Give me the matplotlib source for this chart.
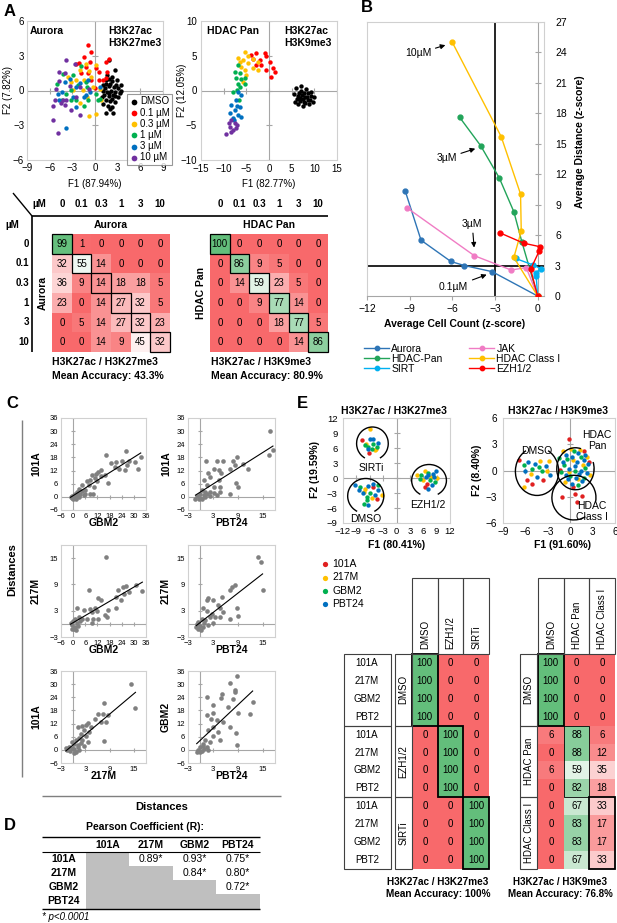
import matplotlib
matplotlib.use("Agg")
import matplotlib.pyplot as plt
import numpy as np
from matplotlib.colors import LinearSegmentedColormap
from matplotlib.patches import Arc, Rectangle

plt.rcParams['font.family'] = ['Liberation Sans', 'DejaVu Sans']

W, H = 617, 923

# ---------------- data: panel A scatter (PCA) ----------------
DOSES = ["DMSO", "0.1 µM", "0.3 µM", "1 µM", "3 µM", "10 µM"]
DOSE_COLORS = ["black", "#ff0000", "#ffc000", "#00b050", "#0070c0", "#7030a0"]

AUR_DMSO = [(1.9, 2.65), (2.6, 1.75), (2.3, 1.2), (1.8, 1.0), (2.2, 0.8), (1.5, 0.6), (2.8, 0.5), (3.5, 0.5),
            (3.1, 0.2), (2.5, 0.3), (1.9, 0.4), (1.3, 0.2), (1.0, 0.0), (1.6, -0.1), (2.1, 0.0), (2.7, -0.1),
            (3.3, -0.2), (1.2, -0.4), (1.8, -0.5), (2.4, -0.4), (3.0, -0.6), (1.4, -0.8), (2.0, -0.9), (2.6, -1.0),
            (1.1, -1.2), (1.7, -1.3), (2.2, -1.4), (1.5, -1.9), (2.0, -1.6), (0.9, -0.6), (2.9, 0.9), (1.6, 1.3),
            (2.4, -1.9), (3.4, 0.0), (2.0, 0.6), (1.4, 0.9), (2.7, -0.5), (1.1, 0.5), (2.3, -0.7), (1.9, -0.2)]
AUR_01 = [(-0.95, 3.9), (-0.5, 3.33), (-1.5, 2.9), (-2.1, 2.4), (-0.7, 2.5), (0.15, 1.9), (-1.25, 2.0),
          (-0.95, 1.47), (-1.8, 1.5), (0.5, 1.6), (1.5, 2.5), (1.9, 2.7), (1.55, 1.6), (1.0, 0.9), (-0.5, 0.9),
          (0.5, 0.9), (-0.05, 0.25), (1.4, 1.1), (-2.5, 2.3)]
AUR_03 = [(-1.25, 2.33), (-2.05, 1.75), (-0.73, 1.7), (0.15, 2.18), (-1.4, 0.9), (-2.5, 0.9), (-3.15, 0.75),
          (-0.3, 0.26), (-1.6, 0.03), (0.6, 0.17), (-1.1, -0.55), (-2.05, -1.1), (-0.8, -2.2), (0.15, -2.0),
          (0.8, -0.83), (-2.85, 0.03), (-3.6, 1.2), (-0.5, 1.2)]
AUR_1 = [(-1.83, 2.1), (-2.85, 1.3), (-4.25, 1.4), (-3.15, 0.03), (-2.27, 0.46), (-1.08, 0.32), (0.15, -0.26),
         (0.6, -0.7), (-3.15, -0.83), (-3.8, -0.26), (-2.5, -0.83), (-1.4, -1.35), (-4.35, -0.78), (-0.95, -0.83),
         (0.37, -0.83), (-1.17, 0.75), (-5.05, 0.55)]
AUR_3 = [(-3.8, -3.28), (-4.35, -0.11), (-4.9, -0.26), (-3.37, 1.03), (-2.57, 0.32), (-2.05, 0.66), (-0.95, 0.9),
         (-2.9, -0.55), (-1.4, -0.55), (-0.64, -0.11), (-4.7, -0.83), (-2.5, -1.4), (-1.25, -0.4), (-4.0, 0.75),
         (0.6, 0.26)]
AUR_10 = [(-3.8, 2.6), (-2.7, 2.33), (-4.8, 1.6), (-4.0, 1.47), (-4.7, 0.83), (-3.28, 0.37), (-2.05, 0.32),
          (-5.1, 0.17), (-5.6, -1.35), (-5.35, -0.83), (-4.25, -0.78), (-4.0, -1.26), (-3.8, -0.83), (-4.9, -3.7),
          (-5.6, -2.56), (-2.05, -2.13), (-3.15, -1.7), (-2.57, -0.55), (-0.8, 0.17), (-4.47, -1.06)]

HDP_DMSO = [(5.5, -0.5), (6.0, 0.3), (6.3, -0.8), (6.8, -1.5), (7.0, 0.0), (7.2, -0.7), (7.5, -1.2), (7.8, -0.3),
            (8.0, -1.8), (8.3, -0.9), (8.6, -0.4), (9.0, -1.3), (9.3, -0.8), (9.6, -1.6), (6.5, -2.0), (7.4, -2.3),
            (8.8, -2.0), (6.1, -1.2), (7.1, 0.6), (8.1, 0.2), (9.9, -1.0), (5.8, -1.6), (7.7, -1.7), (8.5, -1.4),
            (6.6, -0.3), (7.9, -0.9), (9.2, -0.2), (6.9, -1.1)]
HDP_01 = [(-2.8, 5.35), (-0.96, 5.44), (-3.5, 4.6), (-2.06, 4.4), (-0.6, 4.9), (0.15, 4.15), (-1.7, 3.67),
          (-2.8, 3.67), (-0.6, 2.95), (0.9, 3.2), (1.25, 2.6), (0.5, 1.9), (-3.9, 5.1)]
HDP_03 = [(-5.4, 5.6), (-6.8, 4.63), (-5.7, 4.4), (-4.6, 4.9), (-3.5, 4.6), (-4.6, 3.9), (-6.1, 3.43), (-5.4, 2.95),
          (-2.4, 4.15), (-3.5, 3.2), (-5.0, 2.23), (-6.5, 4.15), (-2.4, 2.95), (-5.7, 1.27)]
HDP_1 = [(-6.8, 3.67), (-7.6, 2.7), (-6.5, 2.47), (-7.2, 1.75), (-6.1, 1.6), (-6.8, 1.0), (-5.4, 1.0), (-6.5, 0.46),
         (-7.9, -0.17), (-5.4, 1.75), (-6.6, -1.37), (-7.06, 0.07)]
HDP_3 = [(-6.8, -0.17), (-6.1, -0.65), (-7.2, -1.37), (-8.3, -2.1), (-6.5, -2.33), (-7.6, -2.8), (-6.8, -3.5),
         (-7.9, -4.0), (-6.1, -3.76), (-8.7, -3.3), (-7.06, -2.23), (-7.7, -4.3)]
HDP_10 = [(-8.3, -4.24), (-7.6, -4.7), (-8.7, -5.2), (-7.9, -5.7), (-7.2, -5.45), (-9.4, -6.26), (-8.3, -5.9),
          (-7.06, -4.96), (-8.8, -4.7)]

# ---------------- data: panel A confusion matrices ----------------
MAT_DOSES = ["0", "0.1", "0.3", "1", "3", "10"]
AURORA_ACC = [[99, 1, 0, 0, 0, 0],
              [32, 55, 14, 0, 0, 0],
              [36, 9, 14, 18, 18, 5],
              [23, 0, 14, 27, 32, 5],
              [0, 5, 14, 27, 32, 23],
              [0, 0, 14, 9, 45, 32]]
HDACPAN_ACC = [[100, 0, 0, 0, 0, 0],
               [0, 86, 9, 5, 0, 0],
               [0, 14, 59, 23, 5, 0],
               [0, 0, 9, 77, 14, 0],
               [0, 0, 0, 18, 77, 5],
               [0, 0, 0, 0, 14, 86]]

# ---------------- data: panel B dose-response trajectories ----------------
B_NAMES = ["Aurora", "HDAC-Pan", "SIRT", "JAK", "HDAC Class I", "EZH1/2"]
B_COLORS = ["#2e75b6", "#22a45a", "#00b0f0", "#f07cc4", "#ffc000", "#ff0000"]
B_X = [[0, -3.2, -5.15, -6.1, -8.2, -9.3],
       [0, -1.1, -1.67, -2.7, -4.0, -5.48],
       [0, -0.1, -0.14, 0.21, -0.3, -1.55],
       [0, -0.8, -1.86, -4.45, -9.2],
       [0, -1.67, -1.15, -1.2, -2.56, -6.0],
       [0, -0.49, 0.12, 0.16, -0.97, -2.68]]
B_Y = [[0, 2.4, 3.0, 3.4, 5.5, 10.3],
       [0, 5.3, 8.3, 11.65, 14.8, 17.6],
       [0, 2.0, 2.24, 2.7, 3.05, 3.7],
       [0, 2.8, 2.56, 3.97, 8.7],
       [0, 3.8, 6.4, 10.05, 15.7, 25.0],
       [0, 2.63, 4.46, 4.86, 5.2, 6.24]]

# ---------------- data: panel C distance correlations ----------------
C_101A_GBM2 = [(16.1, 19.0), (26.1, 21.1), (33.4, 18.1), (21.3, 16.1), (24.0, 16.5), (27.7, 16.5), (30.5, 16.0),
               (26.6, 14.5), (31.8, 12.6), (25.6, 12.2), (22.9, 12.6), (14.0, 12.2), (12.4, 11.5), (11.1, 10.4),
               (9.2, 10.0), (14.0, 9.5), (15.6, 10.0), (17.3, 6.1), (10.8, 8.4), (8.4, 7.7), (6.8, 7.4), (4.4, 5.4),
               (7.6, 5.4), (10.5, 4.6), (6.0, 3.1), (2.7, 3.8), (1.9, 2.3), (4.4, 2.8), (10.0, 1.5), (8.4, 1.2),
               (3.5, 1.2), (1.1, 1.2), (0.3, 0.8), (-0.5, 0.3), (-1.3, 0.0), (0.8, -0.3), (-0.2, -1.2), (1.9, 0.3),
               (1.5, -0.8), (2.7, 0.0), (-0.8, -0.6), (5.2, 0.8), (6.0, 1.5), (3.1, 0.8), (11.9, 7.4), (20.5, 13.5),
               (18.9, 15.3)]
C_101A_PBT24 = [(16.9, 30.2), (17.5, 21.4), (16.5, 19.1), (1.3, 16.5), (4.0, 16.5), (5.4, 16.5), (7.9, 16.5),
                (8.9, 18.1), (10.2, 14.9), (8.3, 14.5), (7.1, 12.6), (11.5, 12.6), (3.2, 12.6), (4.4, 12.2),
                (4.9, 10.7), (1.8, 11.0), (2.4, 9.2), (4.4, 7.7), (0.8, 7.7), (1.6, 5.4), (3.2, 4.6), (4.8, 4.3),
                (8.7, 6.4), (9.1, 4.6), (0.4, 3.1), (1.2, 2.3), (2.2, 2.3), (3.2, 1.8), (4.8, 2.3), (0.0, 1.2),
                (0.8, 0.8), (-0.8, 0.3), (-0.2, -0.3), (0.4, -0.8), (1.2, 0.0), (1.6, 1.2), (-1.2, -0.8),
                (-0.4, -1.2), (2.4, 0.3), (4.0, 0.8), (7.1, 1.2)]
C_217M_GBM2 = [(16.1, 15.2), (7.6, 7.7), (12.4, 5.8), (14.0, 5.5), (22.1, 7.7), (24.5, 8.4), (26.1, 8.6),
               (31.0, 8.8), (27.7, 7.3), (25.3, 6.9), (34.2, 7.5), (21.3, 6.1), (21.3, 3.7), (23.7, 5.4), (1.9, 3.7),
               (5.2, 3.1), (8.4, 3.3), (9.2, 2.7), (10.8, 3.7), (11.9, 3.0), (15.6, 2.0), (16.9, 1.6), (17.4, 3.1),
               (4.4, 1.2), (6.8, 1.2), (10.0, 1.2), (9.5, 0.1), (12.4, 1.2), (2.7, 1.6), (1.1, 1.2), (-0.2, 0.7),
               (-1.3, 0.2), (-0.5, -0.3), (0.8, -0.7), (1.9, 0.1), (0.3, -1.1), (1.5, -1.3), (2.4, -0.5), (3.5, 0.7),
               (-0.8, -1.1)]
C_217M_PBT24 = [(14.0, 15.2), (14.6, 14.1), (15.0, 7.7), (7.5, 8.4), (8.3, 8.8), (7.1, 7.8), (5.1, 6.1), (3.1, 5.4),
                (1.5, 5.4), (1.9, 5.8), (4.3, 4.2), (4.7, 3.7), (5.5, 2.7), (7.1, 1.2), (8.8, 3.7), (9.0, 1.7),
                (0.7, 3.7), (1.5, 3.0), (2.7, 2.3), (2.3, 1.6), (3.5, 1.6), (4.7, 1.6), (3.1, 0.1), (0.3, 1.0),
                (1.1, 0.8), (-0.5, 0.5), (-0.9, -0.1), (-0.1, -0.5), (0.6, -0.8), (-0.5, -1.1), (0.9, 0.1),
                (1.9, -0.3), (0.2, -1.4), (-1.0, -0.7)]
C_101A_217M = [(14.4, 30.0), (15.4, 18.9), (7.7, 21.2), (6.1, 16.4), (7.3, 16.4), (8.5, 15.9), (5.4, 13.9),
               (6.9, 12.9), (8.1, 12.9), (3.7, 12.4), (3.2, 11.4), (1.1, 10.6), (2.3, 10.9), (4.4, 10.6), (2.7, 9.1),
               (4.0, 8.3), (1.9, 7.3), (3.2, 6.1), (1.5, 5.3), (7.7, 4.2), (0.7, 4.5), (2.3, 4.5), (3.6, 3.8),
               (-0.4, 3.8), (0.2, 2.7), (1.1, 2.3), (1.9, 3.0), (2.7, 1.8), (-1.0, 1.5), (-0.4, 0.8), (0.2, 0.3),
               (-1.4, 0.0), (-0.7, -0.5), (0.7, -0.8), (0.1, -1.5), (1.5, 0.0), (-1.8, 0.8), (1.2, 1.5)]
C_GBM2_PBT24 = [(8.9, 33.6), (7.1, 30.6), (8.3, 27.3), (8.3, 26.5), (5.1, 25.5), (4.9, 23.5), (1.5, 24.2),
                (7.9, 23.0), (12.6, 22.0), (3.1, 20.5), (6.7, 19.7), (9.0, 17.0), (12.0, 16.4), (1.5, 15.9),
                (3.1, 16.7), (2.5, 13.9), (3.9, 13.6), (5.5, 12.9), (7.1, 10.6), (3.1, 10.6), (1.9, 9.1), (4.3, 8.3),
                (4.7, 4.5), (3.1, 6.1), (8.7, 7.6), (8.8, 2.3), (2.3, 3.8), (1.1, 4.5), (0.7, 2.7), (1.5, 1.5),
                (-0.1, 1.2), (-0.5, 0.0), (0.3, -0.3), (-0.9, -0.8), (0.9, 0.3), (1.9, 0.0), (-0.2, -1.2), (0.6, 1.8)]

# ---------------- data: panel D ----------------
LINES = ["101A", "217M", "GBM2", "PBT24"]
PEARSON = [[None, "0.89*", "0.93*", "0.75*"],
           [None, None, "0.84*", "0.80*"],
           [None, None, None, "0.72*"],
           [None, None, None, None]]

# ---------------- data: panel E ----------------
E_LINES = ["101A", "217M", "GBM2", "PBT24"]
E_COLORS = ["#e02020", "#ffc000", "#00b050", "#0070c0"]
E1_PTS = [
    [(-7.8, 7.7), (-6.1, 5.1), (-5.2, -1.7), (-4.4, -4.1), (6.8, -1.1), (6.4, -1.7)],
    [(-5.9, 9.9), (-6.8, 6.9), (-4.8, 5.6), (-4.5, 5.8), (-7.0, -2.1), (-7.4, -2.7), (-3.3, -3.4), (-5.6, -3.9),
     (4.5, 0.6), (6.4, 1.5), (6.0, -0.4), (9.0, 0.1), (7.7, 0.3)],
    [(-5.2, 6.9), (-6.3, 6.3), (-5.6, 5.9), (-7.0, 6.6), (-4.4, 6.3), (-8.2, -1.7), (-5.9, -2.9), (-6.7, -3.7),
     (-7.4, -5.1), (-6.7, -4.4), (-4.1, -1.4), (5.3, -0.1), (7.5, -0.4), (8.6, -0.7), (5.6, 0.6), (7.0, 1.0)],
    [(-5.9, 7.9), (-4.1, 7.1), (-6.5, 5.9), (-5.2, 7.9), (-9.3, -1.4), (-6.3, -1.6), (-4.1, -2.4), (-4.8, -3.4),
     (-6.3, -5.4), (-8.5, -2.4), (-5.2, -1.1), (-7.6, -3.0), (7.1, 0.6), (8.2, 0.9), (8.8, 1.5), (7.9, -1.4),
     (7.1, -2.1), (8.4, 0.2), (6.6, 0.3)],
]
E2_PTS = [
    [(-6.9, 1.2), (-5.8, -1.14), (-5.1, -1.52), (-3.6, -1.14), (-0.1, 3.6), (-1.1, -3.05), (0.67, -2.67),
     (0.9, -3.6), (1.55, -2.86), (0.44, -1.9), (1.8, 2.2), (-1.3, 0.1), (2.5, 1.0)],
    [(-4.0, 1.14), (-2.9, 1.07), (-5.3, -0.38), (-6.2, -1.83), (-3.1, 0.0), (-0.9, 2.2), (0.1, 2.5), (1.3, 2.4),
     (2.3, 1.5), (0.4, 1.2), (1.7, 0.6), (-0.1, -0.2), (1.0, -1.0), (2.6, -0.5), (-0.7, -1.3)],
    [(-6.2, 0.6), (-5.1, 0.2), (-3.8, 0.0), (-4.2, 0.38), (-1.5, 1.4), (-0.8, 0.6), (0.5, 2.2), (1.5, 1.6),
     (2.0, 0.3), (0.0, -0.6), (1.1, -1.6), (-0.4, 1.3), (0.7, 0.0), (1.9, -0.8), (-1.2, -0.2)],
    [(-5.6, 0.95), (-4.7, 0.76), (-3.3, 0.57), (-4.4, -0.76), (-2.7, -0.57), (-6.0, 0.0), (-0.5, 1.8), (0.3, 1.5),
     (1.0, 2.0), (1.8, 1.2), (0.6, 0.5), (-0.2, 0.2), (1.4, 0.0), (2.2, -0.3), (0.8, -0.8), (-0.6, -0.5),
     (1.6, -1.2), (0.2, -1.5), (2.4, 0.8), (-1.0, 1.0), (0.9, 1.0), (1.2, -0.4), (-0.3, -1.0), (2.0, 1.8)],
]
E_ROWS = ["101A", "217M", "GBM2", "PBT2"]
E1_CLASSES = ["DMSO", "EZH1/2", "SIRTi"]
E2_CLASSES = ["DMSO", "HDAC Pan", "HDAC Class I"]
E1_ACC = [[100, 0, 0]] * 4 + [[0, 100, 0]] * 4 + [[0, 0, 100]] * 4
E2_ACC = [[100, 0, 0], [100, 0, 0], [100, 0, 0], [100, 0, 0],
          [6, 88, 6], [0, 88, 12], [6, 59, 35], [0, 82, 18],
          [0, 67, 33], [0, 83, 17], [0, 83, 17], [0, 67, 33]]

CMAP = LinearSegmentedColormap.from_list("rwg", ["#f8696b", "#ffffff", "#63be7b"])
AXGRAY = "#a6a6a6"


def rect(x0, y0, x1, y1):
    return [x0 / W, 1 - y1 / H, (x1 - x0) / W, (y1 - y0) / H]


def excel_axes(ax, xlim, ylim, xticks, yticks, fs=7, ms=4, pad=2, ypad=None):
    ax.set_xlim(xlim)
    ax.set_ylim(ylim)
    ax.set_xticks(xticks)
    ax.set_yticks(yticks)
    ax.tick_params(length=0, labelsize=fs, pad=pad)
    if ypad is not None:
        ax.tick_params(axis="y", pad=ypad)
    for s in ax.spines.values():
        s.set_color("#d0d0d0")
        s.set_linewidth(0.8)
    ax.axhline(0, color=AXGRAY, lw=0.8, zorder=1)
    ax.axvline(0, color=AXGRAY, lw=0.8, zorder=1)
    ax.plot(xticks, [0] * len(xticks), ls="none", marker="|", ms=ms, mew=0.8, color=AXGRAY, zorder=1)
    ax.plot([0] * len(yticks), yticks, ls="none", marker="_", ms=ms, mew=0.8, color=AXGRAY, zorder=1)


def pts(ax, data, color, s=9, label=None):
    a = np.array(data)
    ax.scatter(a[:, 0], a[:, 1], s=s, color=color, lw=0, zorder=3, label=label)


def heat(ax, vals, boxes, fs=7):
    v = np.array(vals)
    ax.imshow(v, cmap=CMAP, vmin=0, vmax=100, aspect="auto", interpolation="nearest")
    for i in range(v.shape[0]):
        for j in range(v.shape[1]):
            ax.text(j, i, f"{v[i, j]:g}", ha="center", va="center", fontsize=fs)
    for r0, c0, nr, nc, lw in boxes:
        ax.add_patch(Rectangle((c0 - 0.5, r0 - 0.5), nc, nr, fill=False, ec="black", lw=lw, clip_on=False))
    ax.set_axis_off()


fig = plt.figure(figsize=(W / 100, H / 100), dpi=100)

# ---------------- Panel A scatter ----------------
axA1 = fig.add_axes(rect(27, 21, 163, 160))
excel_axes(axA1, (-9, 9), (-6, 6), list(range(-9, 10, 3)), [-6, -3, 0, 3, 6], fs=7)
for d, c, lab in zip([AUR_DMSO, AUR_01, AUR_03, AUR_1, AUR_3, AUR_10], DOSE_COLORS, DOSES):
    pts(axA1, d, c, s=10, label=lab)
leg = axA1.legend(loc="upper left", bbox_to_anchor=(127 / W, 1 - 94 / H), bbox_transform=fig.transFigure,
                  fontsize=7, frameon=True, fancybox=False, borderpad=0.25, handletextpad=0.1, labelspacing=0.12,
                  handlelength=1.0, borderaxespad=0, markerscale=1.3)
leg.get_frame().set_edgecolor("#7f7f7f")
leg.get_frame().set_linewidth(0.8)
leg.set_zorder(10)

axA2 = fig.add_axes(rect(201, 21, 337, 160))
excel_axes(axA2, (-15, 15), (-10, 10), list(range(-15, 16, 5)), [-10, -5, 0, 5, 10], fs=7, pad=3)
for d, c in zip([HDP_DMSO, HDP_01, HDP_03, HDP_1, HDP_3, HDP_10], DOSE_COLORS):
    pts(axA2, d, c, s=10)

# ---------------- Panel A matrices ----------------
axM1 = fig.add_axes(rect(52, 234, 170, 352))
heat(axM1, AURORA_ACC, [(i, i, 1, 1, 0.9) for i in range(6)])
axM2 = fig.add_axes(rect(210, 234, 328, 352))
heat(axM2, HDACPAN_ACC, [(i, i, 1, 1, 0.9) for i in range(6)])

# ---------------- Panel B ----------------
axB = fig.add_axes(rect(367, 22, 544, 296))
axB.set_xlim(-12, 0.45)
axB.set_ylim(0, 27)
axB.set_xticks([-12, -9, -6, -3, 0])
axB.set_yticks(list(range(0, 28, 3)))
axB.yaxis.tick_right()
axB.tick_params(axis="y", length=0, labelsize=7.5, pad=8)
axB.tick_params(axis="x", length=3, color=AXGRAY, labelsize=7.5, pad=3)
for s in axB.spines.values():
    s.set_color("#d0d0d0")
    s.set_linewidth(0.8)
axB.spines["bottom"].set_color(AXGRAY)
axB.axvline(0, color=AXGRAY, lw=0.8, zorder=1)
axB.plot([0] * 10, list(range(0, 28, 3)), ls="none", marker="_", ms=5, mew=0.8, color=AXGRAY, zorder=1)
axB.axvline(-3, color="black", lw=1.2, zorder=2)
axB.axhline(3, color="black", lw=1.2, zorder=2, xmax=1.0)
for xs, ys, c, n in zip(B_X, B_Y, B_COLORS, B_NAMES):
    axB.plot(xs, ys, color=c, lw=1.0, marker="o", ms=3.5, label=n, zorder=4)
arrow = dict(arrowstyle="-|>", color="black", lw=0.8, mutation_scale=7, shrinkA=1, shrinkB=2)
axB.annotate("10µM", xy=(-6.3, 24.8), xytext=(-8.4, 23.9), fontsize=7.5, ha="center", va="center",
             arrowprops=arrow)
axB.annotate("3µM", xy=(-4.2, 14.6), xytext=(-6.4, 13.6), fontsize=7.5, ha="center", va="center",
             arrowprops=arrow)
axB.annotate("3µM", xy=(-4.45, 4.5), xytext=(-4.6, 7.1), fontsize=7.5, ha="center", va="center",
             arrowprops=arrow)
axB.annotate("0.1µM", xy=(-3.4, 2.2), xytext=(-5.9, 0.9), fontsize=7.5, ha="center", va="center",
             arrowprops=arrow)
axB.legend(loc="upper left", bbox_to_anchor=(364 / W, 1 - 344 / H), bbox_transform=fig.transFigure, ncol=2,
           frameon=False, fontsize=7.5, handlelength=2.4, columnspacing=2.6, labelspacing=0.0,
           handletextpad=0.2, borderaxespad=0, borderpad=0, markerscale=0.9)

# ---------------- Panel C ----------------
c_left = (61, 146)
c_right = (188, 275)
c_rows = [(418, 510), (545, 637), (671, 763)]
big = list(range(-6, 37, 6))
small_x = [-3, 3, 9, 15]
small_y = [-3, 3, 9, 15]
c_specs = [
    (C_101A_GBM2, c_left, c_rows[0], (-6, 36), big, (-6, 36), big),
    (C_101A_PBT24, c_right, c_rows[0], (-3, 18), small_x, (-6, 36), big),
    (C_217M_GBM2, c_left, c_rows[1], (-6, 36), big, (-3, 18), small_y),
    (C_217M_PBT24, c_right, c_rows[1], (-3, 18), small_x, (-3, 18), small_y),
    (C_101A_217M, c_left, c_rows[2], (-3, 18), small_x, (-6, 36), big),
    (C_GBM2_PBT24, c_right, c_rows[2], (-3, 18), small_x, (-6, 36), big),
]
for data, (x0, x1), (y0, y1), xl, xt, yl, yt in c_specs:
    ax = fig.add_axes(rect(x0, y0, x1, y1))
    excel_axes(ax, xl, yl, xt, yt, fs=5.5, ms=3)
    pts(ax, data, "#808080", s=11)
    a = np.array(data)
    k, b = np.polyfit(a[:, 0], a[:, 1], 1)
    xx = np.array([a[:, 0].min(), a[:, 0].max()])
    ax.plot(xx, k * xx + b, color="black", lw=0.8, zorder=4)

# ---------------- Panel E scatter ----------------
axE1 = fig.add_axes(rect(343, 418, 450, 523))
excel_axes(axE1, (-12, 12), (-9, 12), list(range(-12, 13, 3)), list(range(-9, 13, 3)), fs=6.8, pad=3, ypad=4)
for d, c, lab in zip(E1_PTS, E_COLORS, E_LINES):
    pts(axE1, d, c, s=10, label=lab)
for (cx, cy, w, h, t1, t2) in [(-5.4, 6.9, 7.1, 6.6, -60, 240), (-6.9, -3.6, 8.1, 7.0, -58, 238),
                               (7.3, -0.5, 7.8, 6.4, -55, 235)]:
    axE1.add_patch(Arc((cx, cy), w, h, theta1=t1, theta2=t2, color="black", lw=1.0, zorder=5))
axE1.text(-5.6, 2.1, "SIRTi", ha="center", va="center", fontsize=7.5)
axE1.text(-6.8, -8.1, "DMSO", ha="center", va="center", fontsize=7.5)
axE1.text(7.1, -5.3, "EZH1/2", ha="center", va="center", fontsize=7.5)

axE2 = fig.add_axes(rect(503, 418, 615, 523))
excel_axes(axE2, (-9, 6), (-6, 6), list(range(-9, 7, 3)), list(range(-6, 7, 3)), fs=7.2, pad=3, ypad=4)
for d, c in zip(E2_PTS, E_COLORS):
    pts(axE2, d, c, s=10)
for (cx, cy, w, h, t1, t2) in [(-4.44, -0.1, 5.8, 5.5, 122, 58), (0.7, 0.2, 5.0, 4.8, 72, 18),
                               (0.5, -3.1, 5.9, 5.1, -8, -55)]:
    axE2.add_patch(Arc((cx, cy), w, h, theta1=t1, theta2=t2, color="black", lw=1.0, zorder=5))
axE2.text(-4.44, 2.2, "DMSO", ha="center", va="center", fontsize=7.5)
axE2.text(3.6, 3.4, "HDAC\nPan", ha="center", va="center", fontsize=7.5, linespacing=1.1)
axE2.text(2.9, -4.7, "HDAC\nClass I", ha="center", va="center", fontsize=7.5, linespacing=1.1)

axE1.legend(loc="upper left", bbox_to_anchor=(320 / W, 1 - 559 / H), bbox_transform=fig.transFigure,
            frameon=False, fontsize=7.5, handletextpad=0.2, labelspacing=0.32, borderaxespad=0, borderpad=0,
            handlelength=1.0, markerscale=1.2)

# ---------------- Panel E tables ----------------
ROWH = (869 - 654) / 12
axT1 = fig.add_axes(rect(412, 654, 489, 869))
heat(axT1, E1_ACC, [(0, 0, 4, 1, 1.3), (4, 1, 4, 1, 1.3), (8, 2, 4, 1, 1.3)])
axT2 = fig.add_axes(rect(538, 654, 615, 869))
heat(axT2, E2_ACC, [(0, 0, 4, 1, 1.3), (4, 1, 4, 1, 0.6), (8, 2, 4, 1, 1.3)])

# ---------------- overlay for labels and table frames ----------------
ov = fig.add_axes([0, 0, 1, 1], zorder=20)
ov.set_xlim(0, W)
ov.set_ylim(H, 0)
ov.axis("off")


def T(x, y, s, size=7, bold=False, **kw):
    kw.setdefault("ha", "center")
    kw.setdefault("va", "center")
    ov.text(x, y, s, fontsize=size, fontweight="bold" if bold else "normal", **kw)


def L(xs, ys, color="black", lw=1.0):
    ov.plot(xs, ys, color=color, lw=lw, solid_capstyle="butt")


# panel letters
T(10, 12, "A", 12, True)
T(367, 8, "B", 12, True)
T(12, 404, "C", 12, True)
T(302, 404, "E", 12, True)
T(10, 825, "D", 12, True)

# A scatter labels
T(30, 31, "Aurora", 7.5, True, ha="left")
T(108, 37, "H3K27ac\nH3K27me3", 7.5, True, ha="left", linespacing=1.2)
T(207, 31, "HDAC Pan", 7.5, True, ha="left")
T(284, 37, "H3K27ac\nH3K9me3", 7.5, True, ha="left", linespacing=1.2)
T(95, 184, "F1 (87.94%)", 7)
T(269, 184, "F1 (82.77%)", 7)
T(8, 90, "F2 (7.82%)", 7, rotation=90)
T(182, 90, "F2 (12.05%)", 7, rotation=90)

# A matrix labels
L([13, 32], [193, 216], lw=1.0)
L([32, 328], [216, 216], lw=1.2)
L([32, 32], [216, 352], lw=1.2)
T(39, 204, "µM", 7, True)
T(12, 225, "µM", 7, True)
for j, d in enumerate(MAT_DOSES):
    T(52 + 19.67 * (j + 0.5), 204, d, 7, True)
    T(210 + 19.67 * (j + 0.5), 204, d, 7, True)
    T(29, 234 + 19.67 * j + 9.8, d, 7, True, ha="right")
T(111, 225, "Aurora", 7.5, True)
T(269, 225, "HDAC Pan", 7.5, True)
T(43, 293, "Aurora", 7.5, True, rotation=90)
T(201, 293, "HDAC Pan", 7.5, True, rotation=90)
T(52, 362, "H3K27ac / H3K27me3", 7.5, True, ha="left")
T(52, 376, "Mean Accuracy: 43.3%", 7.5, True, ha="left")
T(211, 362, "H3K27ac / H3K9me3", 7.5, True, ha="left")
T(211, 376, "Mean Accuracy: 80.9%", 7.5, True, ha="left")

# B labels
T(455, 324, "Average Cell Count (z-score)", 7.5, True)
T(580, 142, "Average Distance (z-score)", 7.5, True, rotation=90)

# C labels
for (y0, y1), (lab_l, lab_r), (xl_l, xl_r) in zip(c_rows, [("101A", "101A"), ("217M", "217M"), ("101A", "GBM2")],
                                                  [("GBM2", "PBT24"), ("GBM2", "PBT24"), ("217M", "PBT24")]):
    T(36, (y0 + y1) / 2, lab_l, 7.5, True, rotation=90)
    T(166, (y0 + y1) / 2, lab_r, 7.5, True, rotation=90)
    T(104, y1 + 13, xl_l, 7.5, True)
    T(232, y1 + 13, xl_r, 7.5, True)
L([22, 22], [420, 777], color="#7f7f7f", lw=1.0)
T(12, 570, "Distances", 8, True, rotation=90)
L([42, 281], [796, 796], color="#7f7f7f", lw=1.0)
T(162, 807, "Distances", 8, True)

# D table
col_b = [86, 129, 173, 216, 260]
row_b = [852, 866, 880, 894, 909]
T(145, 827, "Pearson Coefficient (R):", 7.5, True)
for i in range(4):
    ov.add_patch(Rectangle((col_b[0], row_b[i]), col_b[i + 1] - col_b[0], row_b[i + 1] - row_b[i],
                           color="#bfbfbf", lw=0))
    T(64, (row_b[i] + row_b[i + 1]) / 2, LINES[i], 7.5, True)
    T((col_b[i] + col_b[i + 1]) / 2, 845, LINES[i], 7.5, True)
    for j in range(4):
        if PEARSON[i][j]:
            T((col_b[j] + col_b[j + 1]) / 2, (row_b[i] + row_b[i + 1]) / 2, PEARSON[i][j], 7.5)
L([42, 260], [837, 837], lw=1.0)
L([42, 260], [852, 852], lw=0.8)
L([42, 260], [909, 909], lw=1.0)
T(42, 917, "* p<0.0001", 7, ha="left", style="italic")

# E labels
T(394, 411, "H3K27ac / H3K27me3", 7.5, True)
T(558, 411, "H3K27ac / H3K9me3", 7.5, True)
T(397, 545, "F1 (80.41%)", 7.5, True)
T(562, 545, "F1 (91.60%)", 7.5, True)
T(315, 470, "F2 (19.59%)", 7.5, True, rotation=90)
T(477, 470, "F2 (8.40%)", 7.5, True, rotation=90)

# E table frames
ecol = (489 - 412) / 3
for hx0, classes in [(412, E1_CLASSES), (538, E2_CLASSES)]:
    for j, name in enumerate(classes):
        ov.add_patch(Rectangle((hx0 + j * ecol, 578), ecol, 76, fill=False, ec="#404040", lw=0.8))
        T(hx0 + (j + 0.5) * ecol, 649, name, 7, rotation=90, va="bottom")
for gx0, classes in [(395, E1_CLASSES), (520, E2_CLASSES)]:
    for g, name in enumerate(classes):
        ov.add_patch(Rectangle((gx0, 654 + g * 4 * ROWH), 17, 4 * ROWH, fill=False, ec="#404040", lw=0.8))
        T(gx0 + 8.5, 654 + (g * 4 + 2) * ROWH, name, 7, rotation=90)
for g in range(3):
    ov.add_patch(Rectangle((344, 654 + g * 4 * ROWH), 47, 4 * ROWH, fill=False, ec="#404040", lw=0.8))
for r in range(12):
    T(367, 654 + (r + 0.5) * ROWH, E_ROWS[r % 4], 7)
T(438, 882, "H3K27ac / H3K27me3", 7.2, True)
T(438, 894, "Mean Accuracy: 100%", 7.2, True)
T(560, 882, "H3K27ac / H3K9me3", 7.0, True)
T(560, 894, "Mean Accuracy: 76.8%", 7.0, True)

fig.savefig("out.png", dpi=100)
